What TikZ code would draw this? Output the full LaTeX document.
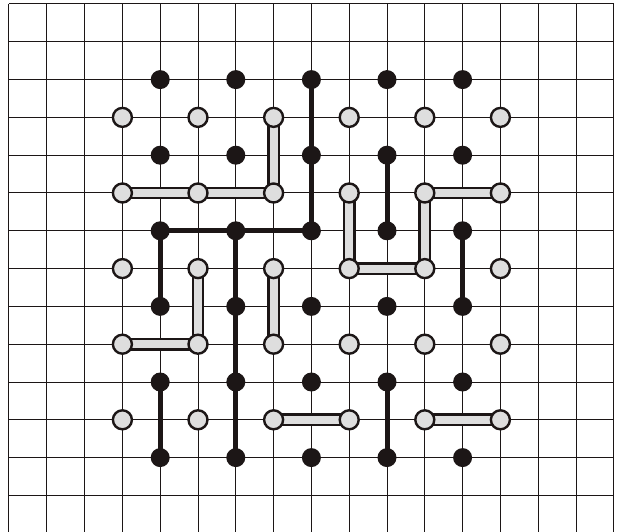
\documentclass[tikz,border=0pt]{standalone}
\usetikzlibrary{backgrounds}
\definecolor{ink}{RGB}{28,22,22}
\definecolor{pale}{RGB}{222,222,222}
\begin{document}
\begin{tikzpicture}[x=37.8pt,y=-37.8pt,
  bdot/.style={circle,fill=ink,inner sep=0pt,minimum size=19pt},
  wdot/.style={circle,draw=ink,fill=pale,line width=2.4pt,inner sep=0pt,minimum size=19pt},
  gridline/.style={line width=1pt,draw=ink},
  blink/.style={line width=5pt,draw=ink},
  wlink/.style={draw=ink,line width=2.4pt,double=pale,double distance=8pt}]
\useasboundingbox (-0.2381,-0.1058) rectangle (16.1111,13.9683);
% nodes
\foreach \i in {4,6,...,12}
  \foreach \j in {2,4,...,12}
    \node[bdot] (b\i-\j) at (\i,\j) {};
\foreach \i in {3,5,...,13}
  \foreach \j in {3,5,...,11}
    \node[wdot] (w\i-\j) at (\i,\j) {};
\begin{scope}[on background layer]
  % grid
  \foreach \i in {0,...,16}
    \draw[gridline] (\i,0) -- (\i,13.9683);
  \foreach \j in {0,...,13}
    \draw[gridline] (0,\j) -- (16,\j);
  % black links
  \draw[blink] (b8-2.center) -- (b8-6.center);
  \draw[blink] (b4-8.center) -- (b4-6.center) -- (b8-6.center);
  \draw[blink] (b6-6.center) -- (b6-12.center);
  \draw[blink] (b10-4.center) -- (b10-6.center);
  \draw[blink] (b12-6.center) -- (b12-8.center);
  \draw[blink] (b4-10.center) -- (b4-12.center);
  \draw[blink] (b10-10.center) -- (b10-12.center);
  % grey links
  \draw[wlink] (w3-5.center) -- (w7-5.center) -- (w7-3.center);
  \draw[wlink] (w5-7.center) -- (w5-9.center) -- (w3-9.center);
  \draw[wlink] (w7-7.center) -- (w7-9.center);
  \draw[wlink] (w9-5.center) -- (w9-7.center) -- (w11-7.center) -- (w11-5.center) -- (w13-5.center);
  \draw[wlink] (w7-11.center) -- (w9-11.center);
  \draw[wlink] (w11-11.center) -- (w13-11.center);
\end{scope}
\end{tikzpicture}
\end{document}
